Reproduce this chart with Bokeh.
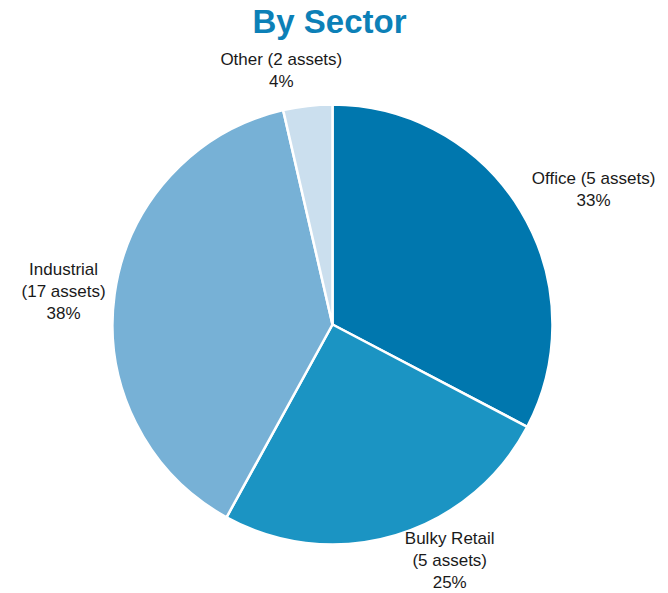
import math
from bokeh.plotting import figure
from bokeh.models import Range1d
from bokeh.core.properties import value
from bokeh.embed import file_html
from bokeh.resources import INLINE

# ---- data ----
sectors = ["Office", "Bulky Retail", "Industrial", "Other"]
assets = [5, 5, 17, 2]
shares = [32.7, 25.3, 38.4, 3.6]
pct_labels = ["33%", "25%", "38%", "4%"]
label_lines = [["Office (5 assets)", "33%"],
               ["Bulky Retail", "(5 assets)", "25%"],
               ["Industrial", "(17 assets)", "38%"],
               ["Other (2 assets)", "4%"]]
colors = ["#0077ae", "#1b94c3", "#77b1d6", "#cbdfee"]

W, H = 668, 593
p = figure(width=W, height=H, output_backend="svg", toolbar_location=None,
           x_range=Range1d(0, W), y_range=Range1d(0, H), min_border=0)
p.axis.visible = False
p.grid.visible = False
p.outline_line_color = None
p.background_fill_color = "white"

cx, cy, R = 332, H - 324, 220
total = sum(shares)
starts, ends, mids = [], [], []
a = math.pi / 2
for s in shares:
    span = 2 * math.pi * s / total
    starts.append(a)
    ends.append(a - span)
    mids.append(a - span / 2)
    a -= span

p.wedge(x=cx, y=cy, radius=R, start_angle=starts, end_angle=ends,
        direction="clock", fill_color=colors, line_color="white", line_width=2.5)

# label placement: outside the pie, pushed out along mid angle
fs = 17
line_h = 22
nudge = [0.0, 0.15, 0.012, 0.06]   # radians
extra_r = [8, -4, -3, 4]
for lines, m, n, er in zip(label_lines, mids, nudge, extra_r):
    ang = m + n
    w = max(len(l) for l in lines) * fs * 0.45
    h = len(lines) * line_h
    r = 232 + er
    px = cx + r * math.cos(ang) + w / 2 * math.cos(ang)
    py = cy + r * math.sin(ang) + h / 2 * math.sin(ang)
    ys = [py + (len(lines) - 1) / 2 * line_h - i * line_h for i in range(len(lines))]
    p.text(x=[px] * len(lines), y=ys, text=lines, text_align="center",
           text_baseline="middle", text_font=value("Liberation Sans"),
           text_font_size=f"{fs}px", text_color="#1a1a1a")

p.text(x=[W / 2 - 5], y=[H - 21], text=["By Sector"], text_align="center",
       text_baseline="middle", text_font=value("Liberation Sans"),
       text_font_style="bold", text_font_size="33px", text_color="#0c80b7")

open("out.html", "w").write(file_html(p, INLINE))
